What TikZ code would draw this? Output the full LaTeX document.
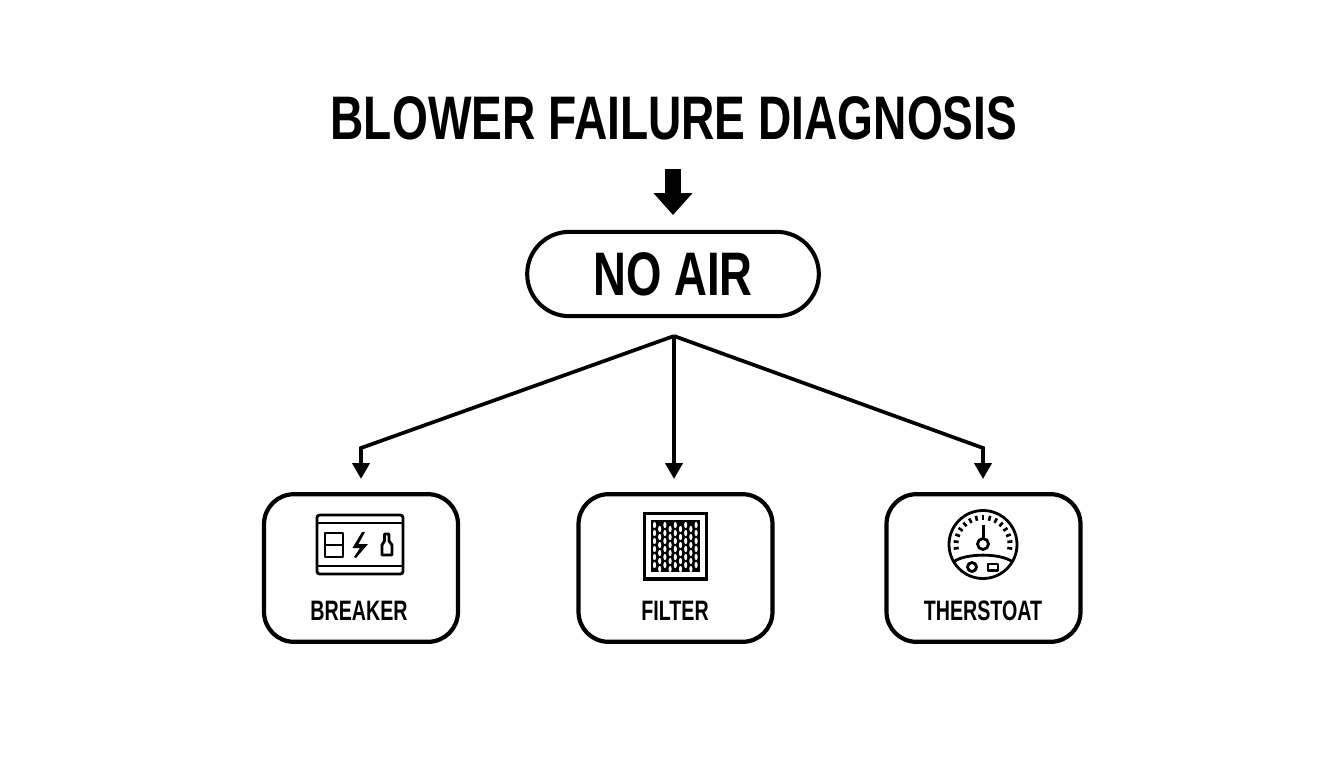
\documentclass[tikz,border=0pt]{standalone}
\usepackage{fontspec}
\setmainfont[FakeStretch=0.74]{Liberation Sans}
\newfontfamily\titlefont[FakeStretch=0.75]{Liberation Sans}
\newfontfamily\tagfont[FakeStretch=0.7]{Liberation Sans}
\usepackage{tikz}
\usetikzlibrary{arrows.meta,positioning,calc}
\tikzstyle{title} = [rectangle, font=\titlefont\bfseries\fontsize{35}{40}\selectfont, inner sep=0pt]
\tikzstyle{start} = [rectangle, draw, line width=2.3pt, rounded corners=24pt, minimum width=166pt, minimum height=48pt, font=\bfseries\fontsize{35}{40}\selectfont]
\tikzstyle{block} = [rectangle, draw, line width=2.4pt, rounded corners=17pt, minimum width=110.4pt, minimum height=84pt]
\tikzstyle{tag} = [rectangle, font=\tagfont\bfseries\fontsize{16}{18}\selectfont, inner sep=0pt]
\tikzset{edge/.style = {
    line width=2.1pt,
    -{Triangle[length=9pt,width=9.6pt]},
  },
  fat/.style = {
    line width=9.6pt,
    -{Triangle[length=12.5pt,width=21.5pt]},
  },
  icon/.style = {line width=1.6pt, line join=round},
}
\begin{document}
\begin{tikzpicture}[x=0.02cm,y=-0.02cm]
            \useasboundingbox (0,0) rectangle (1344,768);
            % vertices
            \node[title] (head) at (674,118) {BLOWER FAILURE DIAGNOSIS};
            \node[start] (noair) at (673,274) {NO AIR};
            \node[block] (b1) at (361,568) {};
            \node[block] (b2) at (675.5,568) {};
            \node[block] (b3) at (983.5,568) {};
            \node[tag] (t1) at (359,611) {BREAKER};
            \node[tag] (t2) at (675,611) {FILTER};
            \node[tag] (t3) at (983,611) {THERSTOAT};
            \coordinate (a1) at (673,169);
            \coordinate (a2) at (673,215);
            \coordinate (hub) at (674,336);
            \coordinate (k1) at (361,448);
            \coordinate (k3) at (983,448);
            \coordinate (e1) at (361,479);
            \coordinate (e2) at (674,479);
            \coordinate (e3) at (983,479);

            %edges
            \draw[fat] (a1) to (a2);
            \draw[edge] (hub) to (k1) to (e1);
            \draw[edge] (hub) to (e2);
            \draw[edge] (hub) to (k3) to (e3);

            %breaker icon
            \draw[icon, rounded corners=1.5pt] (317,515) rectangle (403,574);
            \draw[icon] (317,523) to (403,523);
            \draw[icon] (317,566) to (403,566);
            \draw[icon] (325,533) rectangle (343,557);
            \draw[icon] (325,545) to (343,545);
            \fill (362,532) -- (365,532) -- (358.5,544) -- (368,544) -- (356,558) -- (354,557) -- (360,548) -- (352.5,548) -- cycle;
            \draw[icon] (384.5,534) -- (389,534) -- (389,541) -- (392,545) -- (392,555) -- (382,555) -- (382,545) -- (384.5,541) -- cycle;

            %filter icon
            \draw[line width=1.8pt] (644.5,513.5) rectangle (706.5,579);
            \fill (651,520) rectangle (700,572);
            \foreach \i in {0,...,8} {
              \foreach \j in {0,...,5} {
                \fill[white] ({654.5+\i*5.2},{525+\j*8+mod(\i,2)*4}) ellipse (0.9pt and 1.8pt);
              }
            }

            %thermostat icon
            \draw[icon] (983,544.5) circle (34);
            \foreach \a in {-98,-84,...,98} {
              \draw[line width=1.5pt] ($(983,544.5)+(\a-90:29.5)$) to ($(983,544.5)+(\a-90:24.5)$);
            }
            \draw[line width=1.7pt] (983,539) to (983,525);
            \draw[icon] (983,544) circle (5.5);
            \draw[icon] (954,561.5) .. controls (966,553) and (1000,553) .. (1012,561.5);
            \draw[icon] (972,567) circle (4.5);
            \draw[icon] (988,564) rectangle (998,570.5);
          \end{tikzpicture}
\end{document}
